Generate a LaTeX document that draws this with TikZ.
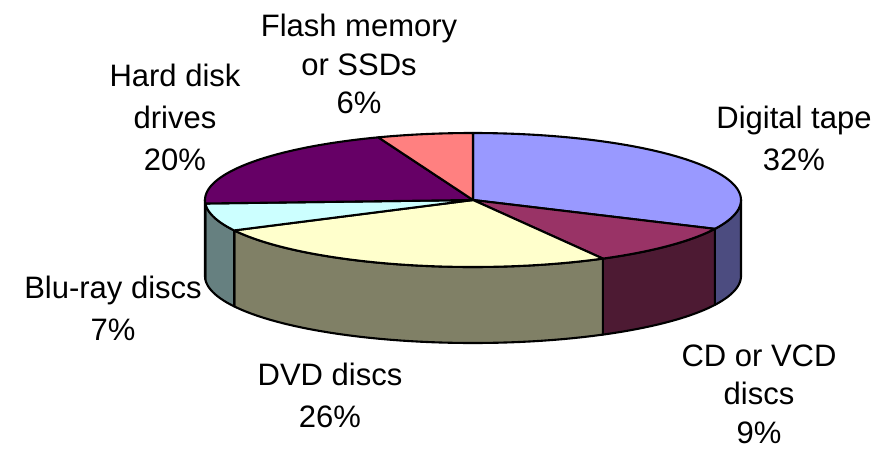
\documentclass[tikz,border=0pt]{standalone}
\usepackage{fontspec}
\setmainfont{Liberation Sans}

% slice colours: top faces and their darker outer walls
\definecolor{tapetop}{HTML}{9999FF}\definecolor{tapeside}{HTML}{4C4C80}
\definecolor{cdtop}{HTML}{993366}\definecolor{cdside}{HTML}{4D1A33}
\definecolor{dvdtop}{HTML}{FFFFCC}\definecolor{dvdside}{HTML}{808066}
\definecolor{blutop}{HTML}{CCFFFF}\definecolor{bluside}{HTML}{668080}
\definecolor{hddtop}{HTML}{660066}\definecolor{hddside}{HTML}{330033}
\definecolor{flashtop}{HTML}{FF8080}

% pie geometry (y grows downwards)
\def\cx{473}\def\cy{200}\def\rx{268}\def\ry{67}\def\dep{76}

% top face of a slice between two angles
\newcommand\pietop[3]{%
  \filldraw[rim,fill=#3] (C) -- plot[domain=#1:#2,samples=60,variable=\t]
    ({\cx+\rx*cos(\t)},{\cy+\ry*sin(\t)}) -- cycle;}
% outer wall of a slice between two angles
\newcommand\pieside[3]{%
  \filldraw[rim,fill=#3] plot[domain=#1:#2,samples=40,variable=\t]
    ({\cx+\rx*cos(\t)},{\cy+\ry*sin(\t)})
    -- plot[domain=#2:#1,samples=40,variable=\t]
    ({\cx+\rx*cos(\t)},{\cy+\dep+\ry*sin(\t)}) -- cycle;}

\begin{document}
\begin{tikzpicture}[x=1pt,y=-1pt,
  rim/.style={draw=black,line width=2.1pt,line join=round},
  lab/.style={anchor=base,align=center,inner sep=0pt,
              font=\fontsize{31}{42}\selectfont},
  tight/.style={font=\fontsize{31}{38.3}\selectfont}]
\path[use as bounding box] (0,0) rectangle (886,448);
\coordinate (C) at (\cx,\cy);

% outer walls, front half only
\pieside{0}{25.5}{tapeside}
\pieside{25.5}{61}{cdside}
\pieside{61}{153}{dvdside}
\pieside{153}{177}{bluside}
\pieside{177}{180}{hddside}

% top faces, clockwise from twelve o'clock
\pietop{-90}{25.5}{tapetop}
\pietop{25.5}{61}{cdtop}
\pietop{61}{153}{dvdtop}
\pietop{153}{177}{blutop}
\pietop{177}{249.3}{hddtop}
\pietop{249.3}{270}{flashtop}

% slice labels (anchored at the baseline of their last line)
\node[lab,tight] (flash) at (359,113.3) {Flash memory\\or SSDs\\6\%};
\node[lab] (hdd) at (175,170) {Hard disk\\drives\\20\%};
\node[lab] (tape) at (794,170) {Digital tape\\32\%};
\node[lab] (blu) at (113,340) {Blu-ray discs\\7\%};
\node[lab] (dvd) at (330,427) {DVD discs\\26\%};
\node[lab,tight] (cd) at (759,443) {CD or VCD\\discs\\9\%};
\end{tikzpicture}
\end{document}
